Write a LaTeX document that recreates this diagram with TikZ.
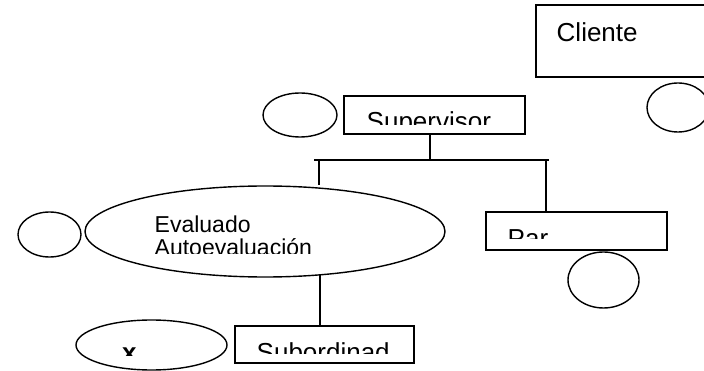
\documentclass[tikz,border=0pt]{standalone}
\usepackage{fontspec}
\setmainfont{Liberation Sans}
\usetikzlibrary{shapes.geometric}
\begin{document}
\begin{tikzpicture}[x=1pt, y=-1pt, line width=1.4pt,
  box/.style={draw, shape=rectangle, inner sep=0pt},
  oval/.style={draw, shape=ellipse, inner sep=0pt},
  label/.style={anchor=base west, inner sep=0pt, font=\fontsize{26}{28}\selectfont}]
\useasboundingbox (0,0) rectangle (704,371);
% boxes
\node (cliente) [box, minimum width=184pt, minimum height=72pt] at (628,41) {};
\node (sup) [box, minimum width=181pt, minimum height=38pt] at (434.5,115) {};
\node (par) [box, minimum width=181pt, minimum height=38pt] at (576.5,231) {};
\node (sub) [box, minimum width=179pt, minimum height=37pt] at (324.5,344.5) {};
% ovals
\node (eval) [oval, minimum width=360pt, minimum height=91pt] at (265,231.5) {};
\node (osup) [oval, minimum width=74pt, minimum height=44pt] at (300,115) {};
\node (ocli) [oval, minimum width=62pt, minimum height=49pt] at (678,107.5) {};
\node (opar) [oval, minimum width=71pt, minimum height=56pt] at (603.5,280) {};
\node (oeval) [oval, minimum width=63pt, minimum height=45pt] at (49.5,234.5) {};
\node (ox) [oval, minimum width=151pt, minimum height=50pt] at (151.5,345) {};
% texts
\node (tcli) [label] at (556,41.5) {Cliente};
\begin{scope}
\clip (86,190) rectangle (444,253.5);
\node (teval) [anchor=base west, inner sep=0pt, align=left,
  font=\fontsize{23}{23}\selectfont] at (154,256) {Evaluado\\Autoevaluación};
\end{scope}
\begin{scope}
\clip (344,96) rectangle (525,125);
\node (tsup) [label] at (366,130.5) {Supervisor};
\end{scope}
\begin{scope}
\clip (486,212) rectangle (667,239);
\node (tpar) [label] at (507,247.5) {Par};
\end{scope}
\begin{scope}
\clip (235,326) rectangle (414,353);
\node (tsub) [label] at (256,361) {Subordinad};
\end{scope}
\begin{scope}
\clip (76,320) rectangle (227,355);
\node (tx) [label, font=\fontsize{26}{28}\selectfont\bfseries] at (121.5,361.5) {x};
\end{scope}
% connectors
\coordinate (busL) at (314,160);
\coordinate (busR) at (549,160);
\coordinate (dropL) at (319,160);
\coordinate (dropR) at (546,160);
\draw ([xshift=-4.5pt]sup.south) -- ([xshift=-4.5pt]sup.south |- busL);
\draw (busL) -- (busR);
\draw (dropL) -- (dropL |- eval.north);
\draw (dropR) -- (dropR |- par.north);
\draw ([xshift=1pt]dropL |- 0,275) -- ([xshift=1pt]dropL |- sub.north);
\end{tikzpicture}
\end{document}
